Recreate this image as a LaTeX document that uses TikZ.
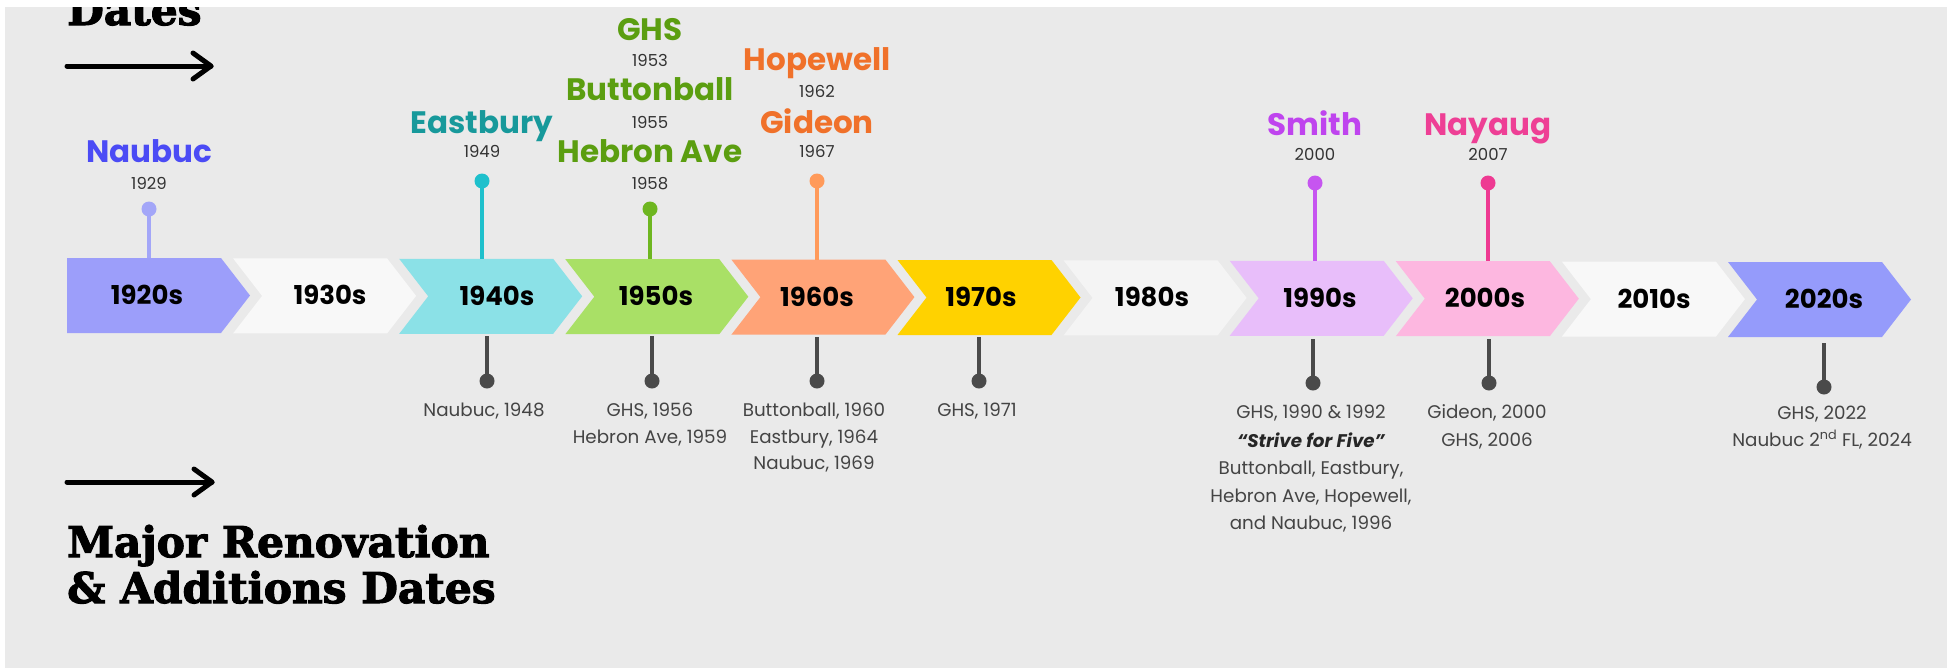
\documentclass[tikz,border=0pt]{standalone}
\usepackage{fontspec}
\usepackage{graphicx}
\setmainfont{Poppins}
\newfontfamily\slabfont{DejaVu Serif}[BoldFeatures={FakeBold=2.5}]
\usetikzlibrary{arrows.meta}
\definecolor{bgGray}{HTML}{EAEAEA}
\definecolor{cA}{HTML}{9C9EFA}
\definecolor{cB}{HTML}{F8F8F8}
\definecolor{cC}{HTML}{8BE1E7}
\definecolor{cD}{HTML}{A9E066}
\definecolor{cE}{HTML}{FFA377}
\definecolor{cF}{HTML}{FFD200}
\definecolor{cG}{HTML}{F4F4F4}
\definecolor{cH}{HTML}{E8BEFA}
\definecolor{cI}{HTML}{FDB7E0}
\definecolor{cJ}{HTML}{F8F8F8}
\definecolor{cK}{HTML}{959BFB}
\definecolor{naubucName}{HTML}{4B4BF5}
\definecolor{naubucDot}{HTML}{A3A6F8}
\definecolor{eastName}{HTML}{17999B}
\definecolor{eastDot}{HTML}{1EC0CC}
\definecolor{greenName}{HTML}{5B9E10}
\definecolor{greenDot}{HTML}{6EB620}
\definecolor{orangeName}{HTML}{F0712A}
\definecolor{orangeDot}{HTML}{FF9A5A}
\definecolor{smithName}{HTML}{BF44EE}
\definecolor{smithDot}{HTML}{C655F0}
\definecolor{nayName}{HTML}{EE3F95}
\definecolor{nayDot}{HTML}{EE3A92}
\definecolor{yearGray}{HTML}{333333}
\definecolor{noteGray}{HTML}{444444}
\definecolor{pinGray}{HTML}{4A4A4A}
\tikzset{
  declab/.style={font=\fontsize{26}{30}\selectfont\bfseries, text=black, inner sep=0pt, anchor=base},
  schoolname/.style={font=\fontsize{31}{34}\selectfont\bfseries, inner sep=0pt, anchor=base},
  yr/.style={font=\fontsize{16.5}{20}\selectfont, text=yearGray, inner sep=0pt, anchor=base},
  notetext/.style={font=\fontsize{18.3}{22}\selectfont, text=noteGray, inner sep=0pt, anchor=base},
  pinline/.style={line width=3.5pt},
  botline/.style={line width=4.5pt, draw=pinGray},
  pindot/.style={circle, inner sep=0pt, minimum size=15pt, fill=#1},
  botdot/.style={circle, inner sep=0pt, minimum size=15pt, fill=pinGray},
  headtxt/.style={font=\slabfont\bfseries\fontsize{42.3}{46}\selectfont, inner sep=0pt, anchor=base west},
  arr/.style={line width=5pt, line cap=round, line join=round, draw=black},
}
\begin{document}
\begin{tikzpicture}[x=1pt,y=-1pt]
\useasboundingbox (0,0) rectangle (1953,670);
\fill[white] (0,0) rectangle (1953,670);
\fill[bgGray] (5,7) rectangle (1947,668);

% chevrons
\foreach \i/\col/\lab/\lx in {0/cA/1920s/147,1/cB/1930s/330,2/cC/1940s/497,3/cD/1950s/656,4/cE/1960s/817,5/cF/1970s/981,6/cG/1980s/1152,7/cH/1990s/1320,8/cI/2000s/1485,9/cJ/2010s/1654,10/cK/2020s/1824}{
  \pgfmathsetmacro\xo{67+166.1*\i}
  \pgfmathsetmacro\yt{258+0.4*\i}
  \ifnum\i=0
    \fill[\col] (\xo,\yt) -- ++(154,0) -- ++(29,37.5) -- ++(-29,37.5) -- ++(-154,0) -- cycle;
  \else
    \fill[\col] (\xo,\yt) -- ++(154,0) -- ++(29,37.5) -- ++(-29,37.5) -- ++(-154,0) -- ++(29,-37.5) -- cycle;
  \fi
  \node[declab] (lab\lab) at (\lx,\yt+46.5) {\lab};
}

% top pins
\coordinate (tNaubuc) at (149,258);
\node[pindot=naubucDot] (dNaubuc) at (149,209) {};
\draw[pinline,naubucDot] (dNaubuc.center) -- (tNaubuc);
\node[yr] (y1929) at (149,189) {1929};
\node[schoolname,text=naubucName] (nNaubuc) at (149,162) {Naubuc};

\coordinate (tEast) at (482,259);
\node[pindot=eastDot] (dEast) at (482,181) {};
\draw[pinline,eastDot] (dEast.center) -- (tEast);
\node[yr] (y1949) at (482,157) {1949};
\node[schoolname,text=eastName] (nEast) at (482,133) {Eastbury};

\coordinate (tFifty) at (650,259);
\node[pindot=greenDot] (dFifty) at (650,209) {};
\draw[pinline,greenDot] (dFifty.center) -- (tFifty);
\node[yr] (y1958) at (650,189) {1958};
\node[schoolname,text=greenName] (nHebron) at (650,162) {Hebron Ave};
\node[yr] (y1955) at (650,128) {1955};
\node[schoolname,text=greenName] (nButton) at (650,100) {Buttonball};
\node[yr] (y1953) at (650,66) {1953};
\node[schoolname,text=greenName] (nGHS) at (650,40) {GHS};

\coordinate (tSixty) at (817,260);
\node[pindot=orangeDot] (dSixty) at (817,181) {};
\draw[pinline,orangeDot] (dSixty.center) -- (tSixty);
\node[yr] (y1967) at (817,157) {1967};
\node[schoolname,text=orangeName] (nGideon) at (817,133) {Gideon};
\node[yr] (y1962) at (817,97) {1962};
\node[schoolname,text=orangeName] (nHope) at (817,70) {Hopewell};

\coordinate (tSmith) at (1315,261);
\node[pindot=smithDot] (dSmith) at (1315,183) {};
\draw[pinline,smithDot] (dSmith.center) -- (tSmith);
\node[yr] (y2000) at (1315,160) {2000};
\node[schoolname,text=smithName] (nSmith) at (1315,135) {Smith};

\coordinate (tNay) at (1488,261);
\node[pindot=nayDot] (dNay) at (1488,183) {};
\draw[pinline,nayDot] (dNay.center) -- (tNay);
\node[yr] (y2007) at (1488,160) {2007};
\node[schoolname,text=nayName] (nNay) at (1488,135) {Nayaug};

% bottom pins
\coordinate (bForty) at (487,336);
\node[botdot] (eForty) at (487,381) {};
\draw[botline] (bForty) -- (eForty.center);
\node[notetext] (r1) at (484,416) {Naubuc, 1948};

\coordinate (bFifty) at (652,336);
\node[botdot] (eFifty) at (652,381) {};
\draw[botline] (bFifty) -- (eFifty.center);
\node[notetext] (r2) at (650,416) {GHS, 1956};
\node[notetext] (r3) at (650,443) {Hebron Ave, 1959};

\coordinate (bSixty) at (817,337);
\node[botdot] (eSixty) at (817,381) {};
\draw[botline] (bSixty) -- (eSixty.center);
\node[notetext] (r4) at (814,416) {Buttonball, 1960};
\node[notetext] (r5) at (814,443) {Eastbury, 1964};
\node[notetext] (r6) at (814,469) {Naubuc, 1969};

\coordinate (bSeventy) at (979,337);
\node[botdot] (eSeventy) at (979,381) {};
\draw[botline] (bSeventy) -- (eSeventy.center);
\node[notetext] (r7) at (977,416) {GHS, 1971};

\coordinate (bNinety) at (1313,339);
\node[botdot] (eNinety) at (1313,383) {};
\draw[botline] (bNinety) -- (eNinety.center);
\node[notetext] (r8) at (1311,418) {GHS, 1990 \& 1992};
\node[notetext,text=black!85] (r9) at (1311,447) {\bfseries\itshape “Strive for Five”};
\node[notetext] (r10) at (1311,474) {Buttonball, Eastbury,};
\node[notetext] (r11) at (1311,502) {Hebron Ave, Hopewell,};
\node[notetext] (r12) at (1311,529) {and Naubuc, 1996};

\coordinate (bTwoK) at (1489,339);
\node[botdot] (eTwoK) at (1489,383) {};
\draw[botline] (bTwoK) -- (eTwoK.center);
\node[notetext] (r13) at (1487,418) {Gideon, 2000};
\node[notetext] (r14) at (1487,446) {GHS, 2006};

\coordinate (bTwenty) at (1824,343);
\node[botdot] (eTwenty) at (1824,387) {};
\draw[botline] (bTwenty) -- (eTwenty.center);
\node[notetext] (r15) at (1822,419) {GHS, 2022};
\node[notetext] (r16) at (1822,446) {Naubuc 2\textsuperscript{nd} FL, 2024};

% titles and arrows
\begin{scope}
\clip (5,7) rectangle (1947,668);
\node[headtxt] (hTop) at (67,25) {Dates};
\end{scope}
\node[headtxt] (hOne) at (67,557) {Major Renovation};
\node[headtxt] (hTwo) at (67,603) {\& Additions Dates};

\coordinate (aTopS) at (67,66);
\coordinate (aTopE) at (211,66);
\coordinate (aTopU) at (193,53);
\coordinate (aTopL) at (193,79);
\draw[arr] (aTopS) -- (aTopE);
\draw[arr] (aTopU) -- (aTopE) -- (aTopL);

\coordinate (aBotS) at (67,482);
\coordinate (aBotE) at (212,482);
\coordinate (aBotU) at (194,469);
\coordinate (aBotL) at (194,495);
\draw[arr] (aBotS) -- (aBotE);
\draw[arr] (aBotU) -- (aBotE) -- (aBotL);
\end{tikzpicture}
\end{document}
